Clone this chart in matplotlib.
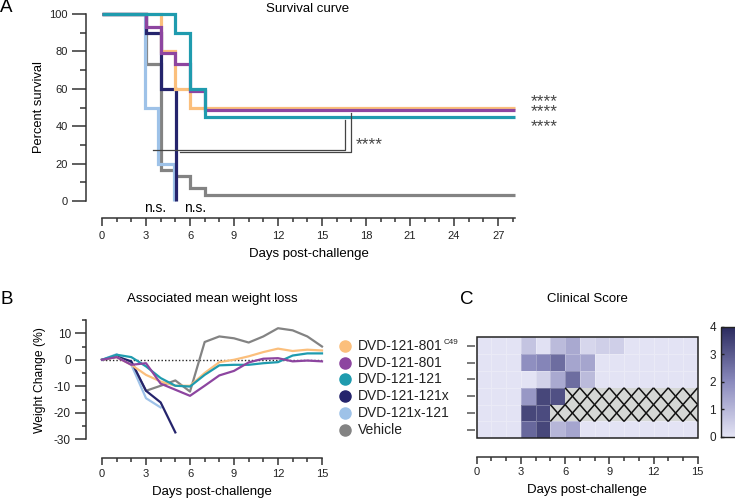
import matplotlib
matplotlib.use('Agg')
import matplotlib.pyplot as plt
import numpy as np
from matplotlib.colors import LinearSegmentedColormap
from matplotlib.transforms import blended_transform_factory
from matplotlib.patches import Rectangle
from matplotlib.collections import LineCollection
from matplotlib.ticker import MultipleLocator

plt.rcParams['font.family'] = ['Liberation Sans', 'DejaVu Sans']
plt.rcParams['axes.unicode_minus'] = False

# ---------------- data ----------------
groups = ['DVD-121-801', 'DVD-121-801', 'DVD-121-121',
          'DVD-121-121x', 'DVD-121x-121', 'Vehicle']
group_sup = ['C49', '', '', '', '', '']
colors = ['#FBBF7C', '#8D45A0', '#1F9BAE', '#25246C', '#9EC2E8', '#838383']

# survival (Kaplan-Meier steps): days, percent
surv_c49_t = [0, 4, 5, 6, 28.15]
surv_c49_s = [100, 80, 60, 50, 50]
surv_801_t = [0, 3, 4, 5, 6, 7, 28.15]
surv_801_s = [100, 93.3, 79, 73.3, 59, 48.5, 48.5]
surv_121_t = [0, 5, 6, 7, 28.15]
surv_121_s = [100, 90, 60, 45, 45]
surv_121x_t = [0, 3, 4, 5.03]
surv_121x_s = [100, 90, 60, 0]
surv_x121_t = [0, 2.93, 3.85, 4.88]
surv_x121_s = [100, 50, 20, 0]
surv_veh_t = [0, 3, 4, 5, 6, 7, 28.15]
surv_veh_s = [100, 73.3, 16.7, 13.3, 6.7, 3.3, 3.3]

# weight change (%) by day
w_days = list(range(16))
w_c49 = [0, 1.0, -1.9, -5.7, -8.2, -9.8, -9.8, -5.0, -0.9, 0.0, 1.3, 2.9, 4.2, 3.3, 3.8, 3.5]
w_801 = [0, 1.0, -1.9, -1.3, -9.0, -11.3, -13.6, -9.8, -5.9, -4.2, -1.0, 0.4, 0.6, -0.6, -0.3, -0.6]
w_121 = [0, 1.9, 1.0, -2.5, -6.9, -9.8, -10.1, -5.7, -2.1, -1.9, -1.9, -1.3, -0.9, 1.6, 2.4, 2.4]
w_121x = [0, 1.2, -0.6, -11.7, -16.1, -27.4]
w_x121 = [0, 2.1, -1.9, -14.5, -18.0]
w_veh = [0, 1.2, -1.2, -11.7, -9.8, -7.8, -12.0, 6.7, 8.8, 8.1, 6.5, 8.8, 11.9, 11.1, 8.8, 5.0]

# clinical score heatmap (rows = groups, cols = day 0..14); nan = no survivors
nan = np.nan
score = np.array([
    [0, 0, 0, 0.7, 0.05, 0.9, 1.3, 0.3, 0.45, 0.45, 0, 0, 0, 0, 0],
    [0, 0, 0, 1.9, 2.1, 2.6, 1.4, 1.4, 0, 0, 0, 0, 0, 0, 0],
    [0, 0, 0, 0, 0.4, 1.3, 2.6, 0.9, 0, 0, 0, 0, 0, 0, 0],
    [0, 0, 0, 1.7, 3.4, 3.2, nan, nan, nan, nan, nan, nan, nan, nan, nan],
    [0, 0, 0, 3.4, 3.3, nan, nan, nan, nan, nan, nan, nan, nan, nan, nan],
    [0, 0, 0, 2.7, 3.4, 1.0, 1.4, 0, 0, 0, 0, 0, 0, 0, 0],
])

# ---------------- layout helpers ----------------
W, H = 735, 500
fig = plt.figure(figsize=(7.35, 5.0), dpi=100)
def fx(px): return px / W
def fy(py): return 1 - py / H
def pt(px): return px * 72 / 100

AX = '#333333'

def style_axis(ax):
    for s in ['top', 'right']:
        ax.spines[s].set_visible(False)
    for s in ['left', 'bottom']:
        ax.spines[s].set_linewidth(1.1)
        ax.spines[s].set_color(AX)
    ax.tick_params(which='both', colors=AX, width=1.1, labelcolor='#222222')

# ---------------- Panel A ----------------
axA = fig.add_axes([fx(102), fy(201), (515 - 102) / W, (201 - 14) / H])
style_axis(axA)
axA.set_xlim(0, 28.15)
axA.set_ylim(0, 100)
axA.spines['left'].set_position(('outward', pt(16)))
axA.spines['bottom'].set_position(('outward', pt(17)))
axA.spines['left'].set_bounds(0, 100)
axA.spines['bottom'].set_bounds(0, 28.15)
axA.yaxis.set_major_locator(MultipleLocator(20))
axA.yaxis.set_minor_locator(MultipleLocator(10))
axA.set_xticks(range(0, 28, 3))
axA.xaxis.set_minor_locator(MultipleLocator(1))
axA.tick_params(axis='y', which='major', length=pt(14), labelsize=8, pad=pt(4))
axA.tick_params(axis='y', which='minor', length=pt(6))
axA.tick_params(axis='x', which='major', length=pt(8), labelsize=8, pad=pt(5))
axA.tick_params(axis='x', which='minor', length=pt(4))
axA.set_ylabel('Percent survival', fontsize=9.3, labelpad=pt(5))
axA.set_xlabel('Days post-challenge', fontsize=9.5, labelpad=pt(7))

surv = [(surv_veh_t, surv_veh_s, 5), (surv_x121_t, surv_x121_s, 4),
        (surv_121x_t, surv_121x_s, 3), (surv_c49_t, surv_c49_s, 0),
        (surv_801_t, surv_801_s, 1), (surv_121_t, surv_121_s, 2)]
for t, s, gi in surv:
    axA.step(t, s, where='post', color=colors[gi], lw=2.3, clip_on=False,
             solid_joinstyle='miter', solid_capstyle='butt')

# significance brackets
BR = '#444444'
axA.plot([3.5, 16.55, 16.55], [27.4, 27.4, 43.3], color=BR, lw=0.9, clip_on=False)
axA.plot([5.3, 16.95, 16.95], [26.0, 26.0, 47.2], color=BR, lw=0.9, clip_on=False)
axA.text(17.3, 30.0, '****', fontsize=12.5, color='#444444', va='center', ha='left')
axA.text(29.2, 50.6, '****\n****', fontsize=12.5, color='#444444', va='center', ha='left',
         linespacing=0.6, clip_on=False)
axA.text(29.2, 39.6, '****', fontsize=12.5, color='#444444', va='center', ha='left',
         clip_on=False)
axA.text(3.64, -5.9, 'n.s.', fontsize=10, ha='center', va='baseline', clip_on=False)
axA.text(6.38, -5.9, 'n.s.', fontsize=10, ha='center', va='baseline', clip_on=False)

fig.text(fx(308), fy(9), 'Survival curve', ha='center', va='center', fontsize=9.5)
fig.text(fx(0), fy(8), 'A', ha='left', va='center', fontsize=13.5)

# ---------------- Panel B ----------------
axB = fig.add_axes([fx(102), fy(439.3), (322 - 102) / W, (439.3 - 320) / H])
style_axis(axB)
axB.set_xlim(0, 15)
axB.set_ylim(-30, 15)
axB.spines['left'].set_position(('outward', pt(16)))
axB.spines['bottom'].set_position(('outward', pt(19)))
axB.spines['left'].set_bounds(-30, 15)
axB.spines['bottom'].set_bounds(0, 15)
axB.set_yticks([-30, -20, -10, 0, 10])
axB.yaxis.set_minor_locator(MultipleLocator(5))
axB.set_xticks(range(0, 16, 3))
axB.xaxis.set_minor_locator(MultipleLocator(1))
axB.tick_params(axis='y', which='major', length=pt(11), labelsize=8.5, pad=pt(4))
axB.tick_params(axis='y', which='minor', length=pt(4.5))
axB.tick_params(axis='x', which='major', length=pt(7), labelsize=8, pad=pt(3.5))
axB.tick_params(axis='x', which='minor', length=pt(3.5))
axB.set_ylabel('Weight Change (%)', fontsize=8.7, labelpad=pt(8))
axB.set_xlabel('Days post-challenge', fontsize=9.5, labelpad=pt(7))
axB.axhline(0, color='#222222', lw=1.0, ls=(0, (1, 1.5)), zorder=1)

weights = [(w_veh, 5), (w_x121, 4), (w_121x, 3), (w_c49, 0), (w_121, 2), (w_801, 1)]
for w, gi in weights:
    axB.plot(w_days[:len(w)], w, color=colors[gi], lw=1.6, clip_on=False, zorder=2)

fig.text(fx(212), fy(299), 'Associated mean weight loss', ha='center', va='center', fontsize=9.5)
fig.text(fx(0), fy(299), 'B', ha='left', va='center', fontsize=13.5)

# ---------------- Panel C ----------------
axC = fig.add_axes([fx(476.7), fy(438.3), (697.7 - 476.7) / W, (438.3 - 337.3) / H])
cmap = LinearSegmentedColormap.from_list('cs', ['#e3e3f4', '#8a8abd', '#2a2a5e'])
mesh = axC.pcolormesh(np.arange(16), np.arange(7), np.ma.masked_invalid(score),
                      cmap=cmap, vmin=0, vmax=4, edgecolors=(1, 1, 1, 0.25), linewidth=0.4)
axC.set_xlim(0, 15)
axC.set_ylim(6, 0)
segs = []
for r in range(score.shape[0]):
    for c in range(score.shape[1]):
        if np.isnan(score[r, c]):
            axC.add_patch(Rectangle((c, r), 1, 1, facecolor='#d5d7d5', edgecolor='none', zorder=2))
            segs.append([(c, r), (c + 1, r + 1)])
            segs.append([(c, r + 1), (c + 1, r)])
axC.add_collection(LineCollection(segs, colors='#111111', linewidths=1.1, zorder=3))
axC.add_patch(Rectangle((0, 0), 15, 6, fill=False, edgecolor='#222222', lw=1.1,
                        zorder=4, clip_on=False))
for s in ['top', 'right', 'left']:
    axC.spines[s].set_visible(False)
axC.spines['bottom'].set_position(('outward', pt(18.4)))
axC.spines['bottom'].set_linewidth(1.1)
axC.spines['bottom'].set_color(AX)
axC.spines['left'].set_position(('outward', pt(2)))
axC.set_xticks(range(0, 16, 3))
axC.xaxis.set_minor_locator(MultipleLocator(1))
axC.tick_params(axis='x', which='both', colors=AX, width=1.1, labelcolor='#222222')
axC.tick_params(axis='x', which='major', length=pt(7), labelsize=8, pad=pt(3.5))
axC.tick_params(axis='x', which='minor', length=pt(3.5))
axC.set_yticks(np.arange(6) + 0.5)
axC.set_yticklabels([])
axC.tick_params(axis='y', length=pt(8), width=1.1, colors='#555555')
axC.set_xlabel('Days post-challenge', fontsize=9.5, labelpad=pt(7))

# legend aligned with heatmap rows
tr = blended_transform_factory(fig.transFigure, axC.transData)
renderer = fig.canvas.get_renderer()
for r, (g, sup, c) in enumerate(zip(groups, group_sup, colors)):
    axC.plot([fx(345)], [r + 0.5], 'o', color=c, ms=8, transform=tr, clip_on=False)
    t = axC.text(fx(358), r + 0.5, g, transform=tr, fontsize=10, va='center', ha='left',
                 color='#222222')
    if sup:
        bb = t.get_window_extent(renderer=renderer)
        axC.text(fx(bb.x1 + 0.5), r + 0.5, sup, transform=tr, fontsize=5.8,
                 va='bottom', ha='left', color='#222222')

fig.text(fx(587), fy(299), 'Clinical Score', ha='center', va='center', fontsize=9.5)
fig.text(fx(460), fy(299), 'C', ha='left', va='center', fontsize=13.5)

cax = fig.add_axes([fx(721), fy(436.5), 24 / W, (436.5 - 326.7) / H])
cb = fig.colorbar(mesh, cax=cax, ticks=[0, 1, 2, 3, 4])
cb.outline.set_linewidth(1.0)
cb.outline.set_edgecolor('#222222')
cax.yaxis.set_ticks_position('left')
cax.yaxis.set_label_position('left')
cax.tick_params(axis='y', direction='in', length=pt(3), width=1, labelsize=8.5,
                pad=pt(5), colors='#222222')

fig.savefig('out.png', dpi=100)
